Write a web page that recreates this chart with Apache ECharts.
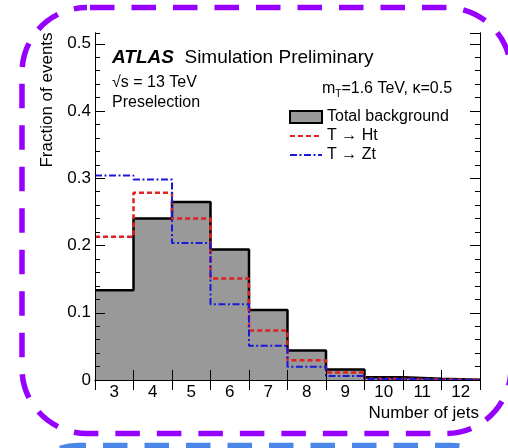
<!DOCTYPE html>
<html>
<head>
<meta charset="utf-8">
<script src="https://cdn.jsdelivr.net/npm/echarts@6/dist/echarts.min.js"></script>
<style>
  html, body { margin: 0; padding: 0; background: #ffffff; }
  #chart { width: 508px; height: 448px; }
</style>
</head>
<body>
<div id="chart"></div>
<script>
// Jet multiplicity bins (bin centres) and normalised distributions
const jetBins = [3, 4, 5, 6, 7, 8, 9, 10, 11, 12];
const totalBackground = [0.1335, 0.240, 0.2646, 0.194, 0.104, 0.044, 0.0155, 0.004, 0.002, 0.0005];
const tToHt = [0.213, 0.2785, 0.240, 0.151, 0.0737, 0.0295, 0.011, 0.002, 0.0008, 0.0003];
const tToZt = [0.304, 0.298, 0.2037, 0.1128, 0.0508, 0.0198, 0.006, 0.0015, 0.0005, 0.0002];

const FONT = "'Liberation Sans', Arial, Helvetica, sans-serif";
const BIN_HALF_WIDTH = 0.5;

// Turn per-bin values into a histogram outline (flat top across each bin)
function stepOutline(values) {
  const pts = [];
  values.forEach((v, i) => {
    pts.push([jetBins[i] - BIN_HALF_WIDTH, v], [jetBins[i] + BIN_HALF_WIDTH, v]);
  });
  return pts;
}

const xMin = jetBins[0] - BIN_HALF_WIDTH;
const xMax = jetBins[jetBins.length - 1] + BIN_HALF_WIDTH;
const yMax = 0.516;

const chart = echarts.init(document.getElementById('chart'), null, { renderer: 'canvas' });

const frameLine = { show: true, lineStyle: { color: '#000', width: 1 } };
const noLabel = { show: false };

// Frame axis with inward ticks; the 0.02-step copies give the minor ticks
function yAxisDef(position, interval, tickLen, withLabels) {
  return {
    type: 'value', position: position, min: 0, max: yMax, interval: interval,
    z: 5,
    axisLine: frameLine,
    axisTick: { show: true, inside: true, length: tickLen, lineStyle: { color: '#000', width: 1 } },
    axisLabel: withLabels ? {
      show: true, inside: false, margin: 4, fontSize: 17, fontFamily: FONT, color: '#000',
      showMaxLabel: false
    } : noLabel,
    splitLine: { show: false }
  };
}

const option = {
  animation: false,
  backgroundColor: '#ffffff',
  grid: { left: 95, right: 28, top: 33, bottom: 68, show: false },
  xAxis: [
    {
      type: 'category', position: 'bottom', data: jetBins.map(String), boundaryGap: true, z: 5,
      axisLine: frameLine,
      axisTick: { show: true, inside: true, length: 10, lineStyle: { color: '#000', width: 1 } },
      axisLabel: { show: true, margin: 4, fontSize: 17, fontFamily: FONT, color: '#000', interval: 0 },
      splitLine: { show: false }
    },
    {
      type: 'category', position: 'top', data: jetBins.map(String), boundaryGap: true, z: 5,
      axisLine: frameLine,
      axisTick: { show: true, inside: true, length: 10, lineStyle: { color: '#000', width: 1 } },
      axisLabel: noLabel,
      splitLine: { show: false }
    },
    // hidden continuous axis spanning the bin edges, used by the histogram outlines
    { type: 'value', min: xMin, max: xMax, show: false }
  ],
  yAxis: [
    yAxisDef('left', 0.1, 10, true),
    yAxisDef('left', 0.02, 5, false),
    yAxisDef('right', 0.1, 10, false),
    yAxisDef('right', 0.02, 5, false)
  ],
  legend: {
    orient: 'vertical', left: 284, top: 104,
    itemWidth: 32, itemHeight: 12, itemGap: 3,
    textStyle: { fontSize: 16, fontFamily: FONT, color: '#000' },
    selectedMode: false,
    data: [
      { name: 'Total background', icon: 'rect', itemStyle: { color: '#999999', borderColor: '#000', borderWidth: 2 } },
      { name: 'T → Ht', itemStyle: { opacity: 0 } },
      { name: 'T → Zt', itemStyle: { opacity: 0 } }
    ]
  },
  series: [
    {
      name: 'Total background', type: 'line', xAxisIndex: 2, yAxisIndex: 0,
      data: stepOutline(totalBackground), symbol: 'none', z: 2,
      itemStyle: { color: '#999999' },
      lineStyle: { color: '#000', width: 2.5 },
      areaStyle: { color: '#999999', opacity: 1 }
    },
    {
      name: 'T → Ht', type: 'line', xAxisIndex: 2, yAxisIndex: 0,
      data: stepOutline(tToHt), symbol: 'none', z: 3,
      itemStyle: { color: '#dd2222' },
      lineStyle: { color: '#dd2222', width: 2.5, type: [5, 3] }
    },
    {
      name: 'T → Zt', type: 'line', xAxisIndex: 2, yAxisIndex: 0,
      data: stepOutline(tToZt), symbol: 'none', z: 4,
      itemStyle: { color: '#1818dd' },
      lineStyle: { color: '#1818dd', width: 2, type: [7, 2.5, 2, 2.5] }
    }
  ],
  graphic: [
    {
      type: 'text', x: 112, y: 58,
      style: {
        text: '{a|ATLAS}{b|  Simulation Preliminary}', verticalAlign: 'middle',
        rich: {
          a: { fontSize: 19, fontWeight: 'bold', fontStyle: 'italic', fontFamily: FONT, fill: '#000' },
          b: { fontSize: 19, fontFamily: FONT, fill: '#000' }
        }
      }
    },
    { type: 'text', x: 112, y: 83, style: { text: '√s = 13 TeV', font: '16px ' + FONT, fill: '#000', verticalAlign: 'middle' } },
    { type: 'text', x: 112, y: 103, style: { text: 'Preselection', font: '16px ' + FONT, fill: '#000', verticalAlign: 'middle' } },
    {
      type: 'text', x: 322, y: 89,
      style: {
        text: '{m|m}{s|T}{m|=1.6 TeV, κ=0.5}', verticalAlign: 'middle',
        rich: {
          m: { fontSize: 16, fontFamily: FONT, fill: '#000', lineHeight: 20 },
          s: { fontSize: 10, fontFamily: FONT, fill: '#000', lineHeight: 20, verticalAlign: 'bottom' }
        }
      }
    },
    {
      type: 'text', x: 47, y: 100, rotation: Math.PI / 2,
      style: { text: 'Fraction of events', font: '17px ' + FONT, fill: '#000', align: 'center', verticalAlign: 'middle' }
    },
    {
      type: 'text', x: 479, y: 413,
      style: { text: 'Number of jets', font: '17px ' + FONT, fill: '#000', align: 'right', verticalAlign: 'middle' }
    },
    // dashed rounded frames around the figure
    {
      type: 'rect', silent: true, z: 100,
      shape: { x: 22, y: 7.5, width: 489, height: 426, r: 65 },
      style: { fill: 'none', stroke: '#9600ff', lineWidth: 5.5, lineDash: [24.5, 17], lineDashOffset: -3 }
    },
    {
      type: 'rect', silent: true, z: 100,
      shape: { x: 18, y: 445.5, width: 493, height: 120, r: 65 },
      style: { fill: 'none', stroke: '#4a86e8', lineWidth: 5.5, lineDash: [24.5, 17], lineDashOffset: 16.5 }
    }
  ]
};

chart.setOption(option);
</script>
</body>
</html>
